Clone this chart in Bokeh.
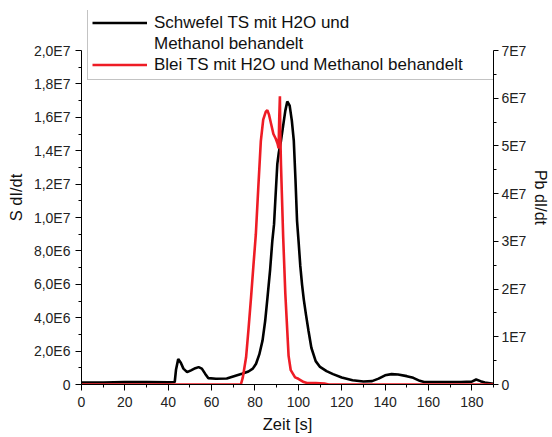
from bokeh.plotting import figure
from bokeh.models import (Range1d, LinearAxis, FixedTicker, Legend, LegendItem)
from bokeh.embed import file_html
from bokeh.resources import INLINE

# Schwefel (S) signal, left axis, counts/s
s_time = [0, 10, 20, 30, 40, 43, 43.6, 44.6, 45.8, 47, 48.7, 50.5, 52.5, 54, 55.5, 57,
          58.5, 62, 67, 71.4, 74, 77, 79, 80.5, 82, 83.5, 84.7, 85.8, 87, 88, 88.8,
          89.5, 90.3, 91, 92, 93, 94, 94.9, 96, 97, 97.9, 98.7, 99.4, 100.2, 100.9,
          101.7, 102.5, 103.5, 104.7, 106, 108, 110, 113, 116, 120, 125, 130, 134,
          137, 140, 143, 146, 150, 153, 156, 158, 165, 170, 175, 180, 182, 184, 186,
          190]
s_signal = [0.12e6, 0.12e6, 0.14e6, 0.14e6, 0.13e6, 0.15e6, 0.9e6, 1.52e6, 1.3e6, 0.95e6,
            0.74e6, 0.85e6, 0.98e6, 1.04e6, 0.95e6, 0.65e6, 0.38e6, 0.34e6, 0.36e6,
            0.54e6, 0.64e6, 0.78e6, 0.95e6, 1.24e6, 1.8e6, 2.64e6, 3.8e6, 5.24e6, 6.9e6,
            8.6e6, 9.6e6, 11.3e6, 13.2e6, 13.9e6, 14.6e6, 15.5e6, 16.4e6, 16.95e6,
            16.7e6, 15.8e6, 14.6e6, 12.2e6, 9.8e6, 8.4e6, 7.1e6, 6.0e6, 5.1e6, 4.2e6,
            3.2e6, 2.2e6, 1.4e6, 1.05e6, 0.8e6, 0.62e6, 0.42e6, 0.25e6, 0.18e6, 0.2e6,
            0.35e6, 0.55e6, 0.62e6, 0.6e6, 0.5e6, 0.4e6, 0.22e6, 0.15e6, 0.15e6,
            0.15e6, 0.15e6, 0.17e6, 0.3e6, 0.2e6, 0.12e6, 0.05e6]

# Blei (Pb) signal, right axis, counts/s
pb_time = [0, 20, 40, 60, 73.5, 74.4, 75.9, 77, 78.2, 79.3, 80.4, 81.5, 82.7, 83.8, 85.0,
           85.7, 86.5, 87.5, 88.5, 89.6, 90.4, 90.9, 91.2, 91.5, 91.7, 92.0, 92.4, 93.0,
           94.0, 95.5, 96.5, 98.5, 100, 102.5, 104, 108, 112, 114, 150, 190]
pb_signal = [0.0, 0.0, 0.0, 0.0, 0.0, 0.15e7, 0.57e7, 1.15e7, 1.83e7, 2.5e7, 3.15e7,
             4.1e7, 5.1e7, 5.55e7, 5.72e7, 5.75e7, 5.65e7, 5.45e7, 5.25e7, 5.15e7,
             5.05e7, 4.95e7, 5.6e7, 6.04e7, 5.2e7, 4.6e7, 4.0e7, 3.1e7, 1.9e7, 0.6e7,
             0.3e7, 0.15e7, 0.12e7, 0.05e7, 0.03e7, 0.03e7, 0.02e7, 0.0, 0.0, 0.0]

x_ticks = [0, 20, 40, 60, 80, 100, 120, 140, 160, 180]
x_minor = [10, 30, 50, 70, 90, 110, 130, 150, 170, 190]
s_ticks = [0, 2e6, 4e6, 6e6, 8e6, 1e7, 1.2e7, 1.4e7, 1.6e7, 1.8e7, 2e7]
s_tick_labels = ["0", "2,0E6", "4,0E6", "6,0E6", "8,0E6", "1,0E7", "1,2E7", "1,4E7",
                 "1,6E7", "1,8E7", "2,0E7"]
s_minor = [1e6, 3e6, 5e6, 7e6, 9e6, 1.1e7, 1.3e7, 1.5e7, 1.7e7, 1.9e7]
pb_ticks = [0, 1e7, 2e7, 3e7, 4e7, 5e7, 6e7, 7e7]
pb_tick_labels = ["0", "1E7", "2E7", "3E7", "4E7", "5E7", "6E7", "7E7"]
pb_minor = [5e6, 1.5e7, 2.5e7, 3.5e7, 4.5e7, 5.5e7, 6.5e7]

FONT = "Liberation Sans"
TICK_SIZE = "14px"
LABEL_SIZE = "16.5px"

# The frame reaches up to the legend; the axes themselves stop at 2E7 / 7E7,
# so the ranges are stretched by the share of that extra headroom.
FRAME_H = 374
AXIS_H = 334
S_MAX = 2e7
PB_MAX = 7e7

p = figure(width=552, height=437, output_backend="svg", toolbar_location=None,
           x_range=Range1d(0, 190), y_range=Range1d(0, S_MAX * FRAME_H / AXIS_H),
           min_border_left=81, min_border_right=54, min_border_top=10,
           min_border_bottom=53)
p.outline_line_color = None
p.grid.visible = False
p.background_fill_color = "white"
p.border_fill_color = "white"

p.extra_y_ranges = {"pb": Range1d(0, PB_MAX * FRAME_H / AXIS_H)}

black = p.line(s_time, s_signal, line_color="black", line_width=2.6)
red = p.line(pb_time, pb_signal, line_color="#ee1c25", line_width=2.6,
             y_range_name="pb")


def style_axis(ax):
    ax.axis_line_color = "black"
    ax.major_tick_line_color = "black"
    ax.minor_tick_line_color = "black"
    ax.major_tick_in = 0
    ax.major_tick_out = 6
    ax.minor_tick_in = 0
    ax.minor_tick_out = 3
    ax.major_label_text_font = FONT
    ax.major_label_text_font_size = TICK_SIZE
    ax.major_label_text_color = "#222222"
    ax.axis_label_text_font = FONT
    ax.axis_label_text_font_size = LABEL_SIZE
    ax.axis_label_text_font_style = "normal"
    ax.axis_label_text_color = "#111111"


xa = p.xaxis[0]
xa.ticker = FixedTicker(ticks=x_ticks, minor_ticks=x_minor)
xa.axis_label = "Zeit [s]"
style_axis(xa)
xa.major_label_standoff = 6
xa.axis_label_standoff = 5

ya = p.yaxis[0]
ya.ticker = FixedTicker(ticks=s_ticks, minor_ticks=s_minor)
ya.major_label_overrides = {t: l for t, l in zip(s_ticks, s_tick_labels)}
ya.axis_label = "S dI/dt"
ya.bounds = (0, S_MAX)
style_axis(ya)
ya.major_label_standoff = 5
ya.axis_label_standoff = 6

ra = LinearAxis(y_range_name="pb", axis_label="Pb dI/dt",
                ticker=FixedTicker(ticks=pb_ticks, minor_ticks=pb_minor),
                bounds=(0, PB_MAX))
ra.major_label_overrides = {t: l for t, l in zip(pb_ticks, pb_tick_labels)}
style_axis(ra)
ra.major_tick_out = 5
ra.major_label_standoff = 3
ra.axis_label_standoff = 3
ra.axis_label_text_font_size = "16px"
p.add_layout(ra, "right")

legend = Legend(items=[
    LegendItem(label="Schwefel TS mit H2O und", renderers=[black]),
    LegendItem(label="Methanol behandelt", renderers=[]),
    LegendItem(label="Blei TS mit H2O und Methanol behandelt", renderers=[red]),
], location=(6, 304))
legend.label_text_font = FONT
legend.label_text_font_size = "17px"
legend.label_text_color = "#111111"
legend.label_height = 21
legend.glyph_height = 21
legend.glyph_width = 55
legend.label_standoff = 7
legend.spacing = 0
legend.padding = 4
legend.margin = 0
legend.label_width = 336
legend.border_line_color = "#888888"
legend.border_line_width = 1
legend.background_fill_color = "white"
legend.background_fill_alpha = 1.0
p.add_layout(legend, "center")

open("out.html", "w").write(file_html(p, INLINE))
